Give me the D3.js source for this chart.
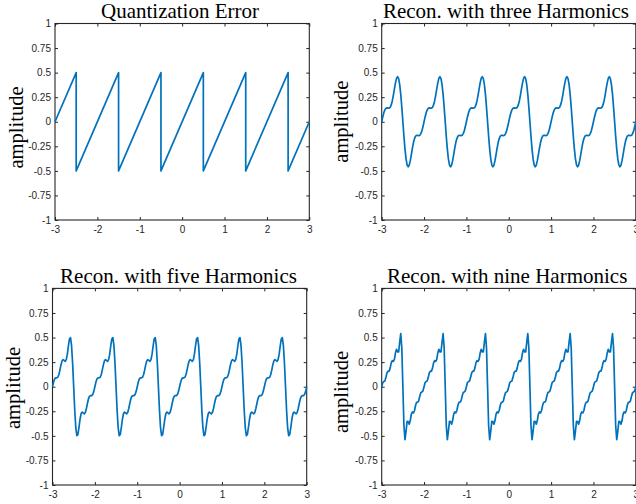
<!DOCTYPE html>
<html><head><meta charset="utf-8">
<script src="https://cdn.jsdelivr.net/npm/d3@7"></script>
<style>body{margin:0;background:#fff}svg{display:block}</style>
</head><body><svg id="c" width="636" height="504"></svg>
<script>
// ---------------- data ----------------
const titles = ["Quantization Error", "Recon. with three Harmonics", "Recon. with five Harmonics", "Recon. with nine Harmonics"];
const yLabel = "amplitude";
const xTicks = [-3, -2, -1, 0, 1, 2, 3];
const yTicks = [-1, -0.75, -0.5, -0.25, 0, 0.25, 0.5, 0.75, 1];

const quantT   = [-3, -2.5, -2.5, -1.5, -1.5, -0.5, -0.5, 0.5, 0.5, 1.5, 1.5, 2.5, 2.5, 3];
const quantErr = [0, 0.5, -0.5, 0.5, -0.5, 0.5, -0.5, 0.5, -0.5, 0.5, -0.5, 0.5, -0.5, 0];

// sample times for the reconstructions: -3 ... 3 every 0.025
const reconT = d3.range(241).map(i => -3 + i * 0.025);

const recon3 = [
0,0.049,0.091,0.121,0.137,0.141,0.139,0.138,0.147,0.171,0.212,0.269,0.334,0.396,0.442,0.459,0.439,0.378,0.278,0.147,0,-0.147,-0.278,-0.378,-0.439,-0.459,-0.442,-0.396,-0.334,-0.269,-0.212,-0.171,-0.147,-0.138,-0.139,-0.141,-0.137,-0.121,-0.091,-0.049,
0,0.049,0.091,0.121,0.137,0.141,0.139,0.138,0.147,0.171,0.212,0.269,0.334,0.396,0.442,0.459,0.439,0.378,0.278,0.147,0,-0.147,-0.278,-0.378,-0.439,-0.459,-0.442,-0.396,-0.334,-0.269,-0.212,-0.171,-0.147,-0.138,-0.139,-0.141,-0.137,-0.121,-0.091,-0.049,
0,0.049,0.091,0.121,0.137,0.141,0.139,0.138,0.147,0.171,0.212,0.269,0.334,0.396,0.442,0.459,0.439,0.378,0.278,0.147,0,-0.147,-0.278,-0.378,-0.439,-0.459,-0.442,-0.396,-0.334,-0.269,-0.212,-0.171,-0.147,-0.138,-0.139,-0.141,-0.137,-0.121,-0.091,-0.049,
0,0.049,0.091,0.121,0.137,0.141,0.139,0.138,0.147,0.171,0.212,0.269,0.334,0.396,0.442,0.459,0.439,0.378,0.278,0.147,0,-0.147,-0.278,-0.378,-0.439,-0.459,-0.442,-0.396,-0.334,-0.269,-0.212,-0.171,-0.147,-0.138,-0.139,-0.141,-0.137,-0.121,-0.091,-0.049,
0,0.049,0.091,0.121,0.137,0.141,0.139,0.138,0.147,0.171,0.212,0.269,0.334,0.396,0.442,0.459,0.439,0.378,0.278,0.147,0,-0.147,-0.278,-0.378,-0.439,-0.459,-0.442,-0.396,-0.334,-0.269,-0.212,-0.171,-0.147,-0.138,-0.139,-0.141,-0.137,-0.121,-0.091,-0.049,
0,0.049,0.091,0.121,0.137,0.141,0.139,0.138,0.147,0.171,0.212,0.269,0.334,0.396,0.442,0.459,0.439,0.378,0.278,0.147,0,-0.147,-0.278,-0.378,-0.439,-0.459,-0.442,-0.396,-0.334,-0.269,-0.212,-0.171,-0.147,-0.138,-0.139,-0.141,-0.137,-0.121,-0.091,-0.049,
0];

const recon5 = [
0,0.047,0.079,0.090,0.090,0.096,0.122,0.169,0.222,0.262,0.276,0.267,0.258,0.275,0.331,0.414,0.486,0.499,0.417,0.239,0,-0.239,-0.417,-0.499,-0.486,-0.414,-0.331,-0.275,-0.258,-0.267,-0.276,-0.262,-0.222,-0.169,-0.122,-0.096,-0.090,-0.090,-0.079,-0.047,
0,0.047,0.079,0.090,0.090,0.096,0.122,0.169,0.222,0.262,0.276,0.267,0.258,0.275,0.331,0.414,0.486,0.499,0.417,0.239,0,-0.239,-0.417,-0.499,-0.486,-0.414,-0.331,-0.275,-0.258,-0.267,-0.276,-0.262,-0.222,-0.169,-0.122,-0.096,-0.090,-0.090,-0.079,-0.047,
0,0.047,0.079,0.090,0.090,0.096,0.122,0.169,0.222,0.262,0.276,0.267,0.258,0.275,0.331,0.414,0.486,0.499,0.417,0.239,0,-0.239,-0.417,-0.499,-0.486,-0.414,-0.331,-0.275,-0.258,-0.267,-0.276,-0.262,-0.222,-0.169,-0.122,-0.096,-0.090,-0.090,-0.079,-0.047,
0,0.047,0.079,0.090,0.090,0.096,0.122,0.169,0.222,0.262,0.276,0.267,0.258,0.275,0.331,0.414,0.486,0.499,0.417,0.239,0,-0.239,-0.417,-0.499,-0.486,-0.414,-0.331,-0.275,-0.258,-0.267,-0.276,-0.262,-0.222,-0.169,-0.122,-0.096,-0.090,-0.090,-0.079,-0.047,
0,0.047,0.079,0.090,0.090,0.096,0.122,0.169,0.222,0.262,0.276,0.267,0.258,0.275,0.331,0.414,0.486,0.499,0.417,0.239,0,-0.239,-0.417,-0.499,-0.486,-0.414,-0.331,-0.275,-0.258,-0.267,-0.276,-0.262,-0.222,-0.169,-0.122,-0.096,-0.090,-0.090,-0.079,-0.047,
0,0.047,0.079,0.090,0.090,0.096,0.122,0.169,0.222,0.262,0.276,0.267,0.258,0.275,0.331,0.414,0.486,0.499,0.417,0.239,0,-0.239,-0.417,-0.499,-0.486,-0.414,-0.331,-0.275,-0.258,-0.267,-0.276,-0.262,-0.222,-0.169,-0.122,-0.096,-0.090,-0.090,-0.079,-0.047,
0];

const recon9 = [
0,0.042,0.053,0.058,0.095,0.142,0.158,0.158,0.189,0.242,0.266,0.257,0.278,0.344,0.381,0.354,0.353,0.453,0.539,0.395,0,-0.395,-0.539,-0.453,-0.353,-0.354,-0.381,-0.344,-0.278,-0.257,-0.266,-0.242,-0.189,-0.158,-0.158,-0.142,-0.095,-0.058,-0.053,-0.042,
0,0.042,0.053,0.058,0.095,0.142,0.158,0.158,0.189,0.242,0.266,0.257,0.278,0.344,0.381,0.354,0.353,0.453,0.539,0.395,0,-0.395,-0.539,-0.453,-0.353,-0.354,-0.381,-0.344,-0.278,-0.257,-0.266,-0.242,-0.189,-0.158,-0.158,-0.142,-0.095,-0.058,-0.053,-0.042,
0,0.042,0.053,0.058,0.095,0.142,0.158,0.158,0.189,0.242,0.266,0.257,0.278,0.344,0.381,0.354,0.353,0.453,0.539,0.395,0,-0.395,-0.539,-0.453,-0.353,-0.354,-0.381,-0.344,-0.278,-0.257,-0.266,-0.242,-0.189,-0.158,-0.158,-0.142,-0.095,-0.058,-0.053,-0.042,
0,0.042,0.053,0.058,0.095,0.142,0.158,0.158,0.189,0.242,0.266,0.257,0.278,0.344,0.381,0.354,0.353,0.453,0.539,0.395,0,-0.395,-0.539,-0.453,-0.353,-0.354,-0.381,-0.344,-0.278,-0.257,-0.266,-0.242,-0.189,-0.158,-0.158,-0.142,-0.095,-0.058,-0.053,-0.042,
0,0.042,0.053,0.058,0.095,0.142,0.158,0.158,0.189,0.242,0.266,0.257,0.278,0.344,0.381,0.354,0.353,0.453,0.539,0.395,0,-0.395,-0.539,-0.453,-0.353,-0.354,-0.381,-0.344,-0.278,-0.257,-0.266,-0.242,-0.189,-0.158,-0.158,-0.142,-0.095,-0.058,-0.053,-0.042,
0,0.042,0.053,0.058,0.095,0.142,0.158,0.158,0.189,0.242,0.266,0.257,0.278,0.344,0.381,0.354,0.353,0.453,0.539,0.395,0,-0.395,-0.539,-0.453,-0.353,-0.354,-0.381,-0.344,-0.278,-0.257,-0.266,-0.242,-0.189,-0.158,-0.158,-0.142,-0.095,-0.058,-0.053,-0.042,
0];

// ---------------- layout ----------------
const panels = [
  {title: titles[0], t: quantT, v: quantErr, x0: 55,    x1: 309.3, y0: 23.5,  y1: 220, tx: 180,   ty: 18.3,  lx: 22.5, ly: 127.5},
  {title: titles[1], t: reconT, v: recon3,   x0: 381.7, x1: 635.8, y0: 23.5,  y1: 220, tx: 506,   ty: 18.3,  lx: 348,  ly: 121.7},
  {title: titles[2], t: reconT, v: recon5,   x0: 52.5,  x1: 306.7, y0: 288.4, y1: 485, tx: 178.5, ty: 282.7, lx: 19.5, ly: 388},
  {title: titles[3], t: reconT, v: recon9,   x0: 381.7, x1: 635.8, y0: 288.4, y1: 485, tx: 507.2, ty: 282.7, lx: 348,  ly: 392}
];

const svg = d3.select("#c");
svg.append("rect").attr("width", 636).attr("height", 504).attr("fill", "#fff");

const axisCol = "#262626";
const fmt = d => String(d);

panels.forEach(p => {
  const x = d3.scaleLinear().domain([-3, 3]).range([p.x0, p.x1]);
  const y = d3.scaleLinear().domain([-1, 1]).range([p.y1, p.y0]);
  const g = svg.append("g");

  const styleAxis = (sel, showText) => {
    sel.select(".domain").remove();
    sel.selectAll(".tick line").attr("stroke", axisCol).attr("stroke-width", 1);
    sel.selectAll(".tick text")
      .attr("fill", axisCol)
      .style("font-family", "'Liberation Sans', Arial, sans-serif")
      .style("font-size", "10px")
      .style("display", showText ? null : "none");
  };

  g.append("g").attr("transform", `translate(0,${p.y1})`)
    .call(d3.axisBottom(x).tickValues(xTicks).tickFormat(fmt).tickSizeInner(-3).tickSizeOuter(0).tickPadding(6))
    .call(s => styleAxis(s, true));
  g.append("g").attr("transform", `translate(0,${p.y0})`)
    .call(d3.axisTop(x).tickValues(xTicks).tickSizeInner(-3).tickSizeOuter(0))
    .call(s => styleAxis(s, false));
  g.append("g").attr("transform", `translate(${p.x0},0)`)
    .call(d3.axisLeft(y).tickValues(yTicks).tickFormat(fmt).tickSizeInner(-3).tickSizeOuter(0).tickPadding(4))
    .call(s => styleAxis(s, true));
  g.append("g").attr("transform", `translate(${p.x1},0)`)
    .call(d3.axisRight(y).tickValues(yTicks).tickSizeInner(-3).tickSizeOuter(0))
    .call(s => styleAxis(s, false));

  g.append("rect")
    .attr("x", p.x0).attr("y", p.y0)
    .attr("width", p.x1 - p.x0).attr("height", p.y1 - p.y0)
    .attr("fill", "none").attr("stroke", axisCol).attr("stroke-width", 1.1);

  const line = d3.line().x((d, i) => x(p.t[i])).y(d => y(d));
  g.append("path")
    .datum(p.v)
    .attr("d", line)
    .attr("fill", "none")
    .attr("stroke", "#0072BD")
    .attr("stroke-width", 1.7)
    .attr("stroke-linejoin", "round");

  g.append("text")
    .attr("x", p.tx).attr("y", p.ty)
    .attr("text-anchor", "middle")
    .style("font-family", "'Liberation Serif', 'Times New Roman', serif")
    .style("font-size", "21px")
    .attr("fill", "#000")
    .text(p.title);

  g.append("text")
    .attr("transform", `translate(${p.lx},${p.ly}) rotate(-90)`)
    .attr("text-anchor", "middle")
    .style("font-family", "'Liberation Serif', 'Times New Roman', serif")
    .style("font-size", "20.5px")
    .attr("fill", "#000")
    .text(yLabel);
});
</script>
</body></html>
